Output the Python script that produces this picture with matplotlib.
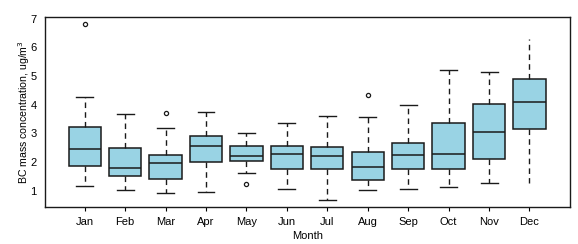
import matplotlib.pyplot as plt

plt.rcParams['font.family'] = ['Liberation Sans', 'DejaVu Sans']

MONTHS = ['Jan', 'Feb', 'Mar', 'Apr', 'May', 'Jun', 'Jul', 'Aug', 'Sep', 'Oct', 'Nov', 'Dec']
WHISK_LO = [1.16, 1.01, 0.90, 0.94, 1.62, 1.05, 0.68, 1.02, 1.05, 1.12, 1.26, 1.28]
Q1       = [1.86, 1.50, 1.40, 1.99, 2.02, 1.74, 1.74, 1.36, 1.74, 1.74, 2.09, 3.14]
MEDIAN   = [2.44, 1.78, 1.95, 2.56, 2.21, 2.27, 2.21, 1.81, 2.23, 2.27, 3.03, 4.08]
Q3       = [3.21, 2.47, 2.24, 2.91, 2.56, 2.54, 2.51, 2.34, 2.65, 3.35, 4.01, 4.88]
WHISK_HI = [4.27, 3.66, 3.19, 3.73, 3.00, 3.35, 3.59, 3.58, 3.97, 5.22, 5.13, 6.27]
OUTLIERS = [[6.80], [], [3.69], [], [1.24], [], [], [4.35], [], [], [], []]

stats = []
for i, m in enumerate(MONTHS):
    stats.append(dict(label=m, whislo=WHISK_LO[i], q1=Q1[i], med=MEDIAN[i],
                      q3=Q3[i], whishi=WHISK_HI[i], fliers=OUTLIERS[i]))

fig = plt.figure(figsize=(5.78, 2.44), dpi=100)
ax = fig.add_axes([0.078, 0.152, 0.908, 0.778])

bp = ax.bxp(stats, widths=0.8, patch_artist=True,
            boxprops=dict(facecolor='#99d3e4', edgecolor='#1a1a1a', linewidth=1.1),
            medianprops=dict(color='#1a1a1a', linewidth=1.1),
            whiskerprops=dict(color='#1a1a1a', linestyle=(0, (4, 3)), linewidth=1.0),
            capprops=dict(color='#1a1a1a', linewidth=1.0),
            flierprops=dict(marker='o', markersize=3, markerfacecolor='none',
                            markeredgecolor='#1a1a1a', markeredgewidth=0.9),
            capwidths=0.42)
# December whiskers have no staples in the original
bp['caps'][-1].set_visible(False)
bp['caps'][-2].set_visible(False)

ax.set_xlim(0.02, 13.0)
ax.set_ylim(0.43, 7.05)
ax.set_yticks([1, 2, 3, 4, 5, 6, 7])
ax.tick_params(axis='y', length=0, labelsize=8, pad=6)
ax.tick_params(axis='x', length=3, labelsize=8, pad=4, width=0.8)
ax.set_xticklabels(MONTHS)
for s in ax.spines.values():
    s.set_linewidth(1.0)
    s.set_color('#1a1a1a')

ax.set_xlabel('Month', fontsize=8, labelpad=3)
ax.set_ylabel('BC mass concentration, ug/m$^3$', fontsize=7.6, labelpad=-1)

plt.savefig('out.png', dpi=100)
